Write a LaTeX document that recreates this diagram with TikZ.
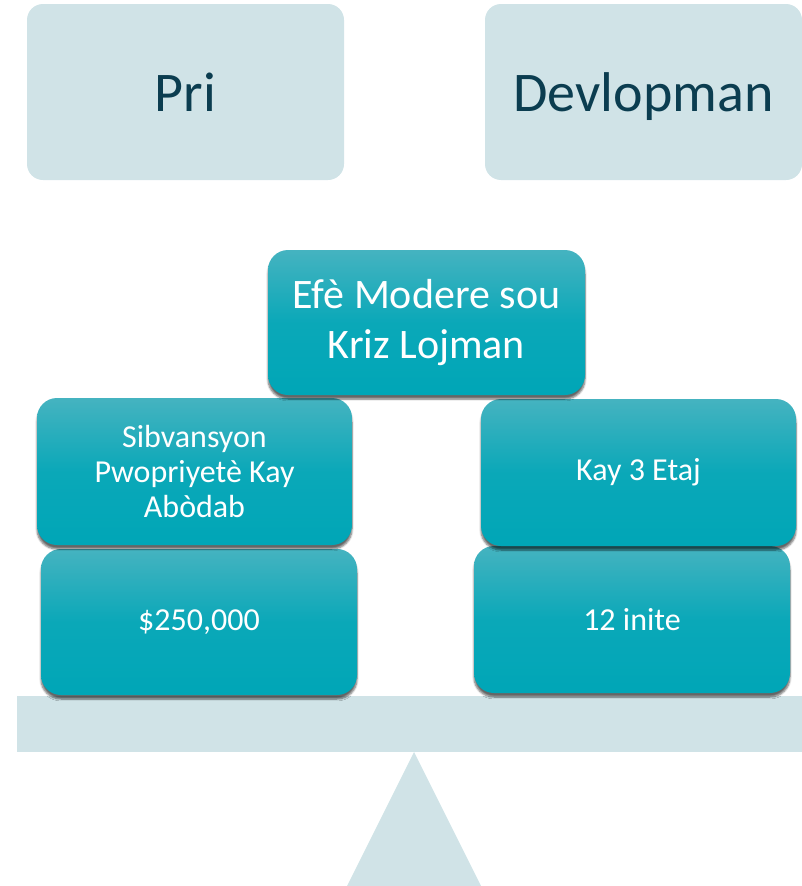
\documentclass[tikz,border=0pt]{standalone}
\usepackage{fontspec}
\setmainfont{Carlito}
\usepackage{tikz}
\usetikzlibrary{shadows.blur}
\definecolor{palebox}{HTML}{D0E3E7}
\definecolor{darktext}{HTML}{0B3D50}
\definecolor{tealtop}{HTML}{45B3C0}
\definecolor{tealbot}{HTML}{00A6B7}
\tikzset{
	topbox/.style={fill=palebox, rounded corners=16pt, text=darktext, text depth=0pt, font=\fontsize{56}{60}\selectfont},
	tealbox/.style={rounded corners=20pt, top color=tealtop, bottom color=tealbot, middle color=tealbot!85!tealtop, text=white, align=center, blur shadow={shadow xshift=0pt, shadow yshift=-4pt, shadow blur steps=6, shadow opacity=60}, inner sep=0pt},
	smalltext/.style={font=\fontsize{32}{35}\selectfont}
}
\begin{document}
\begin{tikzpicture}[x=1pt,y=-1pt]
	\useasboundingbox (0,0) rectangle (802,886);
	\node[topbox, minimum width=317pt, minimum height=176pt] (pri) at (185.5,92) {Pri};
	\node[topbox, minimum width=317pt, minimum height=176pt] (devlopman) at (643.5,92) {Devlopman};
	\fill[palebox] (17,696) rectangle (802,752);
	\fill[palebox] (414,752) -- (481,886) -- (347,886) -- cycle;
	\node[tealbox, smalltext, minimum width=316pt, minimum height=146pt] (montan) at (199,622) {\$250,000};
	\node[tealbox, smalltext, minimum width=316pt, minimum height=147pt] (inite) at (632,619.5) {12 inite};
	\node[tealbox, smalltext, minimum width=315pt, minimum height=147pt] (sibvansyon) at (194.5,471.5) {Sibvansyon\\Pwopriyetè Kay\\Abòdab};
	\node[tealbox, smalltext, minimum width=315pt, minimum height=147pt] (etaj) at (638.5,472.5) {Kay 3 Etaj};
	\node[tealbox, font=\fontsize{42}{50}\selectfont, minimum width=317pt, minimum height=145pt] (efe) at (426.5,322.5) {Efè Modere sou\\Kriz Lojman};
\end{tikzpicture}
\end{document}
